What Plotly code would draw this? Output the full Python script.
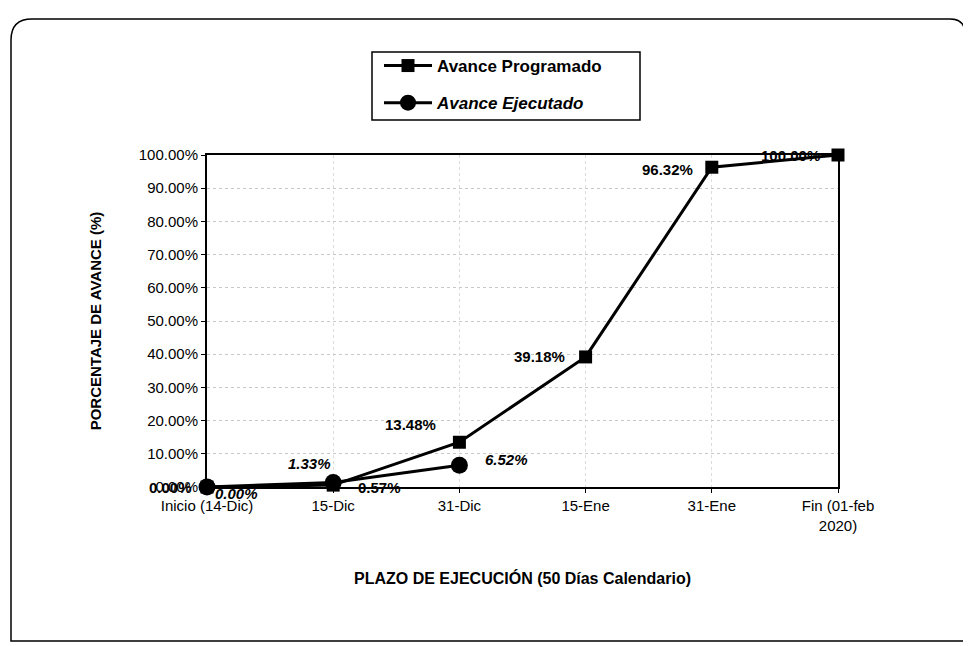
import plotly.graph_objects as go

categories = ["Inicio (14-Dic)", "15-Dic", "31-Dic", "15-Ene", "31-Ene", "Fin (01-feb<br>2020)"]
programado = [0.00, 0.57, 13.48, 39.18, 96.32, 100.00]
ejecutado = [0.00, 1.33, 6.52]
y_ticks = [0, 10, 20, 30, 40, 50, 60, 70, 80, 90, 100]

xi = list(range(len(categories)))
FONT = "Liberation Sans, Arial, sans-serif"

# page offset (body margin) compensation
OX, OY = 8, 8
FW, FH = 971 - OX, 646 - OY
L, R, T, B = 207 - OX, 971 - 838, 155 - OY, 646 - 487
PW, PH = FW - L - R, FH - T - B

def px(x, y):
    # page pixel -> paper coords
    return (x - OX - L) / PW, (FH - B - (y - OY)) / PH

fig = go.Figure()
fig.add_trace(go.Scatter(
    x=xi, y=programado, mode="lines+markers",
    name="<b>Avance Programado</b>", legendgroup="a",
    line=dict(color="black", width=3),
    marker=dict(symbol="square", size=13, color="black"), cliponaxis=False))
fig.add_trace(go.Scatter(
    x=xi[:len(ejecutado)], y=ejecutado, mode="lines+markers",
    name="<b><i>Avance Ejecutado</i></b>", legendgroup="b",
    line=dict(color="black", width=3),
    marker=dict(symbol="circle", size=17, color="black"), cliponaxis=False))

# data labels (offsets in px)
prog_off = [(-37, 0), (46, -2), (-49, 18), (-46, 0), (-44, -2), (-48, 0)]
ejec_off = [(29, -6), (-24, 19), (47, 6)]
for i, v in enumerate(programado):
    fig.add_annotation(x=xi[i], y=v, text=f"<b>{v:.2f}%</b>", showarrow=False,
                       xshift=prog_off[i][0], yshift=prog_off[i][1],
                       font=dict(family=FONT, size=15, color="black"))
for i, v in enumerate(ejecutado):
    fig.add_annotation(x=xi[i], y=v, text=f"<b><i>{v:.2f}%</i></b>", showarrow=False,
                       xshift=ejec_off[i][0], yshift=ejec_off[i][1],
                       font=dict(family=FONT, size=15, color="black"))

lx, ly = px(379, 48)
fig.update_layout(
    width=FW, height=FH,
    margin=dict(l=L, r=R, t=T, b=B),
    paper_bgcolor="white", plot_bgcolor="white",
    font=dict(family=FONT, size=15, color="black"),
    showlegend=True,
    legend=dict(x=lx, y=ly, xanchor="left", yanchor="top",
                borderwidth=0, bgcolor="rgba(0,0,0,0)",
                font=dict(family=FONT, size=17, color="black"),
                traceorder="grouped", tracegroupgap=12, itemwidth=48),
    xaxis=dict(range=[0, 5], tickvals=xi, ticktext=categories,
               showline=True, linecolor="black", linewidth=2, mirror=True,
               ticks="outside", ticklen=4, tickcolor="black",
               showgrid=True, gridcolor="#dcdcdc", griddash="dot", gridwidth=1,
               zeroline=False,
               title=dict(text="<b>PLAZO DE EJECUCIÓN (50 Días Calendario)</b>",
                          font=dict(family=FONT, size=16), standoff=40)),
    yaxis=dict(range=[0, 100], tickvals=y_ticks,
               ticktext=[f"{v:.2f}%" for v in y_ticks],
               showline=True, linecolor="black", linewidth=2, mirror=True,
               ticks="outside", ticklen=4, tickcolor="black",
               showgrid=True, gridcolor="#c8c8c8", griddash="dot", gridwidth=1,
               zeroline=False,
               title=dict(text="<b>PORCENTAJE DE AVANCE (%)</b>",
                          font=dict(family=FONT, size=15), standoff=34)),
)

# legend frame
a0 = px(372, 52); a1 = px(640, 120)
fig.add_shape(type="rect", xref="paper", yref="paper", x0=a0[0], y0=a0[1], x1=a1[0], y1=a1[1],
              line=dict(color="black", width=1.5), layer="below")

# outer rounded frame
a = px(32, 19); b_ = px(950, 19); c = px(965, 19); d = px(965, 34)
e = px(965, 641); f = px(11, 641); g = px(11, 40); h = px(11, 19)
p = (f"M {a[0]},{a[1]} L {b_[0]},{b_[1]} Q {c[0]},{c[1]} {d[0]},{d[1]} "
     f"L {e[0]},{e[1]} L {f[0]},{f[1]} L {g[0]},{g[1]} Q {h[0]},{h[1]} {a[0]},{a[1]} Z")
fig.add_shape(type="path", xref="paper", yref="paper", path=p,
              line=dict(color="black", width=1.5), layer="below")

fig.write_html("out.html")
